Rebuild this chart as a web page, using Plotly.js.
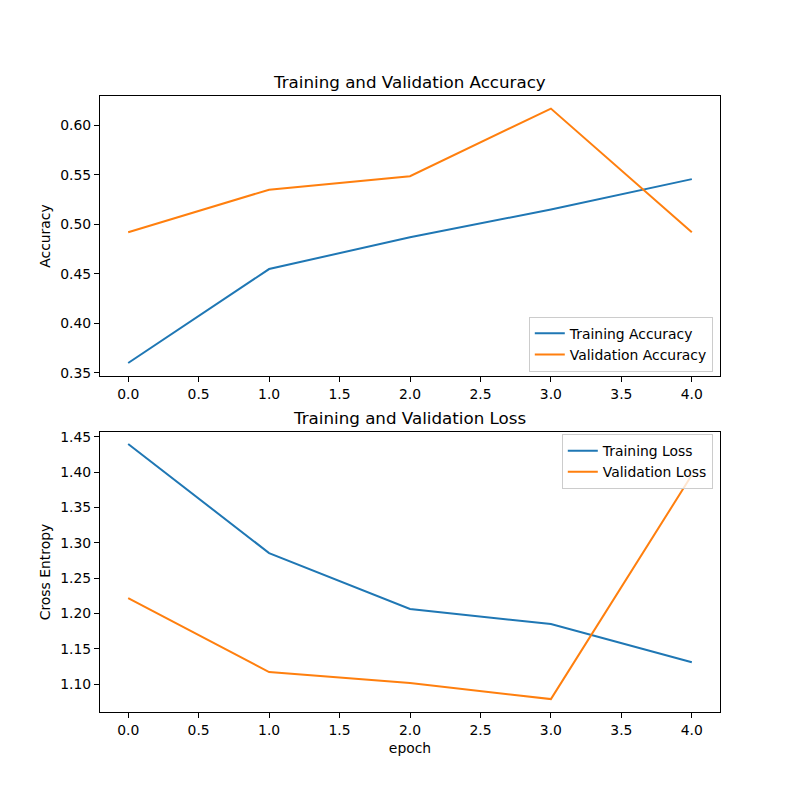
<!DOCTYPE html>
<html>
<head>
<script src="https://cdn.plot.ly/plotly-3.0.1.min.js"></script>
<style>body{margin:0;padding:0;background:#fff;}</style>
</head>
<body>
<div id="chart" style="width:800px;height:800px;"></div>
<script>
const epochs = [0, 1, 2, 3, 4];
const trainAcc = [0.3598, 0.4548, 0.4870, 0.5150, 0.5457];
const valAcc = [0.4920, 0.5350, 0.5486, 0.6170, 0.4920];
const trainLoss = [1.4397, 1.2854, 1.2062, 1.1850, 1.1310];
const valLoss = [1.2217, 1.1170, 1.1016, 1.0788, 1.3958];

const blue = '#1f77b4', orange = '#ff7f0e';
const font = {family: 'DejaVu Sans', size: 13.9, color: '#000'};

const traces = [
  {x: epochs, y: trainAcc, name: 'Training Accuracy', mode: 'lines', line: {color: blue, width: 2}, xaxis: 'x', yaxis: 'y', legend: 'legend'},
  {x: epochs, y: valAcc, name: 'Validation Accuracy', mode: 'lines', line: {color: orange, width: 2}, xaxis: 'x', yaxis: 'y', legend: 'legend'},
  {x: epochs, y: trainLoss, name: 'Training Loss', mode: 'lines', line: {color: blue, width: 2}, xaxis: 'x2', yaxis: 'y2', legend: 'legend2'},
  {x: epochs, y: valLoss, name: 'Validation Loss', mode: 'lines', line: {color: orange, width: 2}, xaxis: 'x2', yaxis: 'y2', legend: 'legend2'}
];

const axCommon = {
  showline: true, mirror: true, linecolor: '#000', linewidth: 1,
  ticks: 'outside', ticklen: 5, tickwidth: 1, tickcolor: '#000',
  showgrid: false, zeroline: false, tickfont: font
};

const legCommon = {
  bgcolor: 'rgba(255,255,255,0.8)', bordercolor: '#cccccc', borderwidth: 1,
  font: font, itemwidth: 30, tracegroupgap: 0
};

const layout = {
  width: 800, height: 800,
  paper_bgcolor: '#fff', plot_bgcolor: '#fff',
  margin: {l: 0, r: 0, t: 0, b: 0},
  showlegend: true,
  font: font,
  xaxis: Object.assign({}, axCommon, {domain: [0.125, 0.9], range: [-0.2, 4.2], dtick: 0.5, tick0: 0, tickformat: '.1f', anchor: 'y'}),
  yaxis: Object.assign({}, axCommon, {domain: [0.53, 0.88], range: [0.3467, 0.6297], dtick: 0.05, tick0: 0, tickformat: '.2f', anchor: 'x',
    title: {text: 'Accuracy', font: font, standoff: 6}}),
  xaxis2: Object.assign({}, axCommon, {domain: [0.125, 0.9], range: [-0.2, 4.2], dtick: 0.5, tick0: 0, tickformat: '.1f', anchor: 'y2',
    title: {text: 'epoch', font: font, standoff: 6}}),
  yaxis2: Object.assign({}, axCommon, {domain: [0.11, 0.46], range: [1.0605, 1.4567], dtick: 0.05, tick0: 0, tickformat: '.2f', anchor: 'x2',
    title: {text: 'Cross Entropy', font: font, standoff: 6}}),
  legend: Object.assign({}, legCommon, {x: 0.891, xanchor: 'right', y: 0.539 - 3/800, yanchor: 'bottom'}),
  legend2: Object.assign({}, legCommon, {x: 0.891, xanchor: 'right', y: 0.451 + 5/800, yanchor: 'top'}),
  annotations: [
    {text: 'Training and Validation Accuracy', xref: 'paper', yref: 'paper', x: 0.5125, y: 1 - 82/800, xanchor: 'center', yanchor: 'middle', showarrow: false, font: {family: 'DejaVu Sans', size: 16.7, color: '#000'}},
    {text: 'Training and Validation Loss', xref: 'paper', yref: 'paper', x: 0.5125, y: 1 - 418/800, xanchor: 'center', yanchor: 'middle', showarrow: false, font: {family: 'DejaVu Sans', size: 16.7, color: '#000'}}
  ]
};

Plotly.newPlot('chart', traces, layout, {staticPlot: true, displayModeBar: false});
</script>
</body>
</html>
